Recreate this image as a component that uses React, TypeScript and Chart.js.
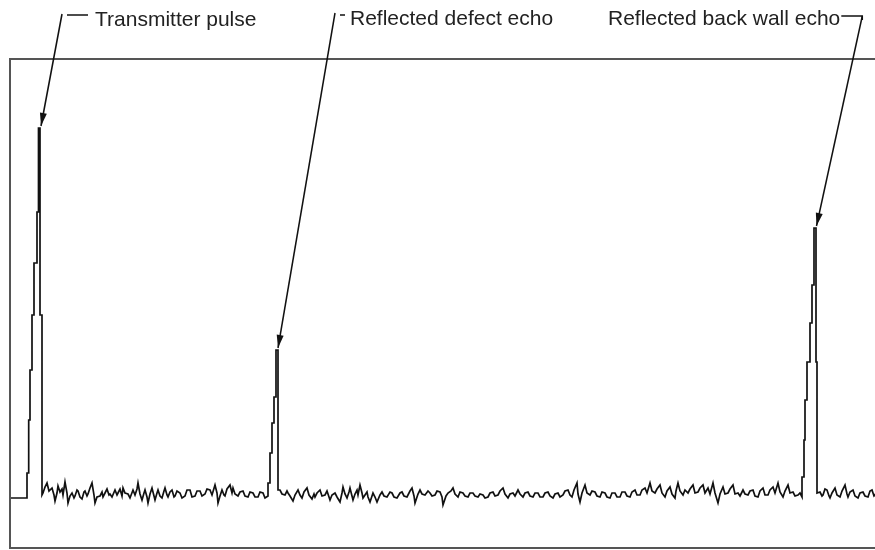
import React, { useEffect, useRef } from "react";
import { Chart, registerables } from "chart.js";

Chart.register(...registerables);

// Time axis (sample units) and amplitude of the A-scan trace, segment by segment
const leadIn: [number, number][] = [[10, 1], [27, 1]];
const transmitterPulse: [number, number][] = [
  [27, 26], [28.7, 26], [28.7, 79], [30, 79], [30, 129], [32, 129], [32, 184], [34, 184],
  [34, 236], [37, 236], [37, 287], [38.5, 287], [38.5, 371], [40, 371], [40, 184], [42, 184], [42, 4],
];
const noiseA: [number, number][] = [
  [43, 6], [45, 12], [47, 16], [49, 8], [52, 11], [54, 4], [55, -2], [57, 6], [58, 13], [60, 7],
  [62, 10], [63, 4], [65, 17], [67, 6], [68, -4], [70, 3], [72, 6], [74, 1], [75, 3], [77, 9],
  [78, 8], [80, 2], [82, 0], [84, 7], [85, 8], [87, 3], [88, 5], [90, 11], [92, 16], [94, 4],
  [95, -4], [97, 2], [100, 3], [102, 7], [103, 2], [105, 6], [107, 10], [109, 4], [110, 5], [112, 2],
  [115, 9], [117, 4], [118, 6], [120, 10], [122, 3], [123, 11], [125, 6], [128, 5], [130, 1], [133, 9],
  [135, 4], [137, 10], [138, 16], [140, 5], [142, -1], [144, 6], [145, 9], [147, 2], [148, -4], [150, 5],
  [152, 11], [154, 3], [155, -1], [157, 6], [158, 9], [160, 3], [162, 1], [164, 8], [165, 11], [167, 4],
  [168, 2], [170, 7], [172, 9], [174, 2], [175, 3], [177, 8], [180, 6], [182, 1], [185, 3], [187, 9],
  [190, 9], [192, 2], [195, 3], [197, 8], [200, 8], [202, 3], [205, 5], [207, 10], [210, 9], [212, 4],
  [215, 14], [217, 6], [218, -4], [220, 3], [222, 9], [224, 4], [225, 3], [227, 10], [230, 14], [232, 6],
  [233, 11], [235, 5], [238, 3], [240, 7], [243, 8], [245, 3], [248, 2], [250, 7], [253, 6], [255, 2],
  [258, 2], [260, 7], [263, 6], [265, 1], [268, 3],
];
const defectEcho: [number, number][] = [
  [268, 16], [270, 16], [270, 46], [272, 46], [272, 76], [274, 76], [274, 102], [276, 102],
  [276, 149], [278, 149], [278, 9],
];
const noiseB: [number, number][] = [
  [280, 9], [282, 5], [285, 4], [287, 8], [288, 6], [290, 3], [293, -2], [295, 4], [298, 9], [300, 4],
  [302, 1], [304, 7], [307, 11], [309, 4], [312, 0], [314, 5], [315, 2], [317, 6], [320, 9], [322, 3],
  [325, 4], [327, 8], [330, -1], [332, 4], [335, 6], [337, 2], [340, -3], [342, 6], [343, 12], [345, 5],
  [347, 1], [349, 7], [350, 11], [352, 3], [353, -1], [355, 5], [357, 9], [358, 4], [360, 14], [362, 6],
  [363, 1], [365, 4], [367, 7], [368, 2], [370, -3], [372, 3], [373, 6], [375, 2], [377, -3], [380, 4],
  [382, 7], [384, 3], [387, 2], [390, 7], [392, 6], [394, 2], [397, 1], [400, 6], [402, 7], [404, 3],
  [407, 2], [410, 8], [412, 11], [414, 3], [415, -4], [418, 5], [420, 9], [422, 5], [425, 4], [428, 8],
  [430, 6], [432, 3], [435, 4], [437, 8], [440, 7], [442, 2], [443, -6], [446, 3], [448, 6], [451, 8],
  [453, 11], [455, 5], [458, 2], [460, 7], [463, 6], [465, 3], [468, 2], [470, 6], [473, 6], [475, 3],
  [478, 2], [480, 5], [483, 4], [485, 1], [488, 2], [490, 6], [493, 7], [495, 3], [498, 4], [500, 8],
  [503, 11], [505, 5], [508, 1], [510, 5], [513, 6], [515, 3], [518, 9], [520, 5], [523, 2], [525, 6],
  [528, 7], [530, 3], [533, 2], [535, 6], [538, 6], [540, 2], [543, 2], [545, 6], [548, 7], [550, 3],
  [553, 1], [555, 5], [558, 6], [560, 2], [563, 4], [565, 8], [568, 9], [570, 4], [572, 2], [574, 9],
  [577, 16], [578, 5], [580, -3], [582, 6], [585, 14], [587, 6], [590, 4], [592, 8], [595, 7], [597, 3],
  [600, 2], [602, 7], [605, 6], [607, 2], [610, 1], [612, 6], [615, 6], [617, 2], [620, 2], [622, 7],
  [625, 7], [627, 3], [630, 2], [632, 7], [635, 9], [637, 4], [640, 4], [642, 9], [645, 11], [647, 6],
  [650, 16], [652, 8], [655, 6], [657, 10], [660, 14], [662, 6], [665, 2], [667, 8], [670, 12], [672, 5],
  [675, 1], [676, 8], [678, 16], [680, 8], [683, 4], [685, 9], [688, 6], [690, 10], [693, 14], [695, 6],
  [698, 7], [700, 11], [703, 14], [705, 6], [708, 11], [710, 5], [713, 16], [715, 6], [718, -4], [720, 5],
  [723, 12], [725, 5], [728, 6], [730, 10], [733, 14], [735, 5], [738, 6], [740, 3], [743, 9], [745, 5],
  [748, 4], [750, 8], [753, 9], [755, 3], [758, 2], [760, 8], [763, 11], [765, 4], [768, 4], [770, 9],
  [773, 12], [775, 6], [778, 16], [780, 7], [783, 2], [785, 8], [788, 14], [790, 6], [793, 7], [795, 3],
  [798, 4], [800, 6], [802, 2],
];
const backWallEcho: [number, number][] = [
  [802, 22], [804, 22], [804, 59], [805, 59], [805, 99], [807, 99], [807, 137], [810, 137], [810, 176],
  [812, 176], [812, 214], [814, 214], [814, 271], [816, 271], [816, 137], [817, 137], [817, 6],
];
const noiseC: [number, number][] = [
  [820, 7], [822, 3], [823, 4], [825, 10], [827, 9], [829, 3], [830, 1], [832, 6], [835, 11], [837, 4],
  [840, 2], [842, 8], [845, 14], [847, 5], [848, 2], [850, 7], [853, 9], [855, 3], [858, 1], [860, 6],
  [863, 7], [865, 3], [868, 2], [870, 8], [872, 9], [874, 3], [875, 4], [877, 8], [880, 8], [882, 2],
  [885, 2], [887, 7], [890, 7], [892, 3], [895, 3],
];

// Annotation labels and the echo peaks they point at
const annotationLabels = ["Transmitter pulse", "Reflected defect echo", "Reflected back wall echo"];
const annotationPeakTimes = [40, 277, 815.5];
const annotationPeakAmps = [371, 149, 271];

const traceData = [
  ...leadIn, ...transmitterPulse, ...noiseA, ...defectEcho, ...noiseB, ...backWallEcho, ...noiseC,
].map(([x, y]) => ({ x, y }));

function drawArrow(ctx: CanvasRenderingContext2D, x0: number, y0: number, x1: number, y1: number) {
  ctx.beginPath();
  ctx.moveTo(x0, y0);
  ctx.lineTo(x1, y1);
  ctx.stroke();
  const ang = Math.atan2(y1 - y0, x1 - x0);
  const len = 13;
  const hw = 3.5;
  const bx = x1 - len * Math.cos(ang);
  const by = y1 - len * Math.sin(ang);
  ctx.beginPath();
  ctx.moveTo(x1, y1);
  ctx.lineTo(bx + hw * Math.sin(ang), by - hw * Math.cos(ang));
  ctx.lineTo(bx - hw * Math.sin(ang), by + hw * Math.cos(ang));
  ctx.closePath();
  ctx.fill();
}

const frameAndLabels = {
  id: "frameAndLabels",
  afterDraw(chart: any) {
    const { ctx, chartArea, scales } = chart;
    ctx.save();
    // frame
    ctx.strokeStyle = "#555";
    ctx.lineWidth = 2;
    ctx.strokeRect(chartArea.left, chartArea.top, chartArea.right - chartArea.left, chartArea.bottom - chartArea.top);

    // labels
    ctx.fillStyle = "#222";
    ctx.font = "21px 'Liberation Sans', Arial, sans-serif";
    ctx.textBaseline = "alphabetic";
    const textX = [95, 350, 608];
    const textY = [26, 25, 25];
    annotationLabels.forEach((t, i) => ctx.fillText(t, textX[i], textY[i]));

    ctx.strokeStyle = "#111";
    ctx.fillStyle = "#111";
    ctx.lineWidth = 1.5;
    const tips = annotationPeakTimes.map((t, i) => [
      scales.x.getPixelForValue(t) + 1,
      scales.y.getPixelForValue(annotationPeakAmps[i]) - 2,
    ]);
    // transmitter
    ctx.beginPath();
    ctx.moveTo(67, 15);
    ctx.lineTo(88, 15);
    ctx.stroke();
    drawArrow(ctx, 62, 14, tips[0][0], tips[0][1]);
    // defect
    ctx.beginPath();
    ctx.moveTo(340, 15);
    ctx.lineTo(345, 15);
    ctx.stroke();
    drawArrow(ctx, 335, 13, tips[1][0], tips[1][1]);
    // back wall
    const tw = ctx.measureText(annotationLabels[2]).width;
    const ex = textX[2] + tw + 1;
    ctx.beginPath();
    ctx.moveTo(ex, 16);
    ctx.lineTo(ex + 21, 16);
    ctx.lineTo(ex + 21, 20);
    ctx.stroke();
    drawArrow(ctx, ex + 21, 16, tips[2][0], tips[2][1]);
    ctx.restore();
  },
};

export default function App() {
  const ref = useRef<HTMLCanvasElement>(null);
  useEffect(() => {
    if (!ref.current) return;
    const chart = new Chart(ref.current, {
      type: "line",
      data: {
        datasets: [
          {
            data: traceData,
            borderColor: "#111",
            borderWidth: 1.7,
            pointRadius: 0,
            tension: 0,
            fill: false,
          },
        ],
      },
      options: {
        responsive: false,
        animation: false,
        devicePixelRatio: 1,
        layout: { padding: { left: 10, top: 59, right: 5, bottom: 2 } },
        plugins: { legend: { display: false }, tooltip: { enabled: false }, title: { display: false } },
        scales: {
          x: { type: "linear", display: false, min: 10, max: 895 },
          y: { type: "linear", display: false, min: -49, max: 440 },
        },
      },
      plugins: [frameAndLabels],
    });
    return () => chart.destroy();
  }, []);
  return (
    <div
      style={{
        position: "fixed",
        left: 0,
        top: 0,
        width: 875,
        height: 550,
        overflow: "hidden",
        background: "#fff",
      }}
    >
      <canvas ref={ref} width={900} height={550} style={{ display: "block", width: 900, height: 550 }} />
    </div>
  );
}
